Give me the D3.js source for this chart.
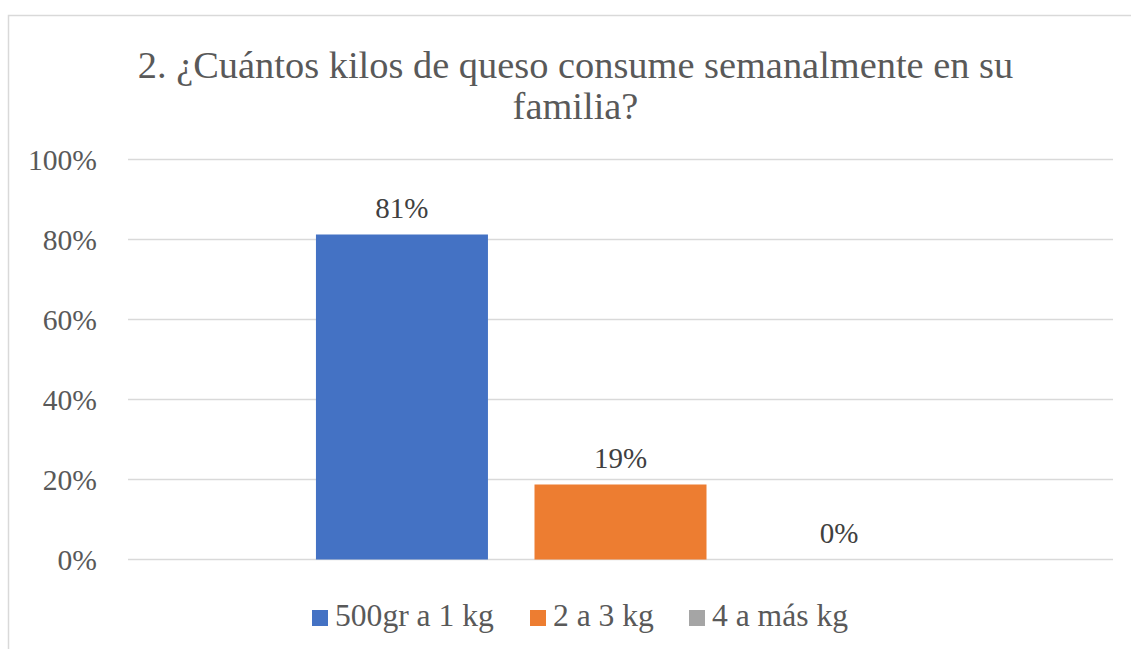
<!DOCTYPE html>
<html><head><meta charset="utf-8">
<script src="https://cdn.jsdelivr.net/npm/d3@7"></script>
<style>html,body{margin:0;padding:0;background:#fff;}svg{display:block;}</style>
</head><body>
<svg id="chart" width="1131" height="649"></svg>
<script>
const titleLines = ["2. ¿Cuántos kilos de queso consume semanalmente en su", "familia?"];
const series = ["500gr a 1 kg", "2 a 3 kg", "4 a más kg"];
const values = [0.8125, 0.1875, 0];
const labels = ["81%", "19%", "0%"];
const colors = ["#4472C4", "#ED7D31", "#A5A5A5"];
const yTicks = [0, 0.2, 0.4, 0.6, 0.8, 1.0];

const svg = d3.select("#chart");
const font = "Liberation Serif, Tinos, Times New Roman, Times, DejaVu Serif, serif";
const textColor = "#595959";

svg.append("rect").attr("x", 8.5).attr("y", 15.5).attr("width", 1140).attr("height", 650)
  .attr("fill", "#fff").attr("stroke", "#D9D9D9").attr("stroke-width", 1.5);

const plotL = 128, plotR = 1113, plotT = 159.5, plotB = 559.5;
const y = d3.scaleLinear().domain([0, 1]).range([plotB, plotT]);
const x = d3.scaleBand().domain(series).range([plotL, plotR]).paddingInner(0.213).paddingOuter(0.86);

svg.append("g").selectAll("line").data(yTicks).join("line")
  .attr("x1", plotL).attr("x2", plotR).attr("y1", d => y(d)).attr("y2", d => y(d))
  .attr("stroke", "#D9D9D9").attr("stroke-width", 1.5);

const yAxis = d3.axisLeft(y).tickValues(yTicks).tickFormat(d3.format(".0%")).tickSize(0).tickPadding(0);
const ga = svg.append("g").attr("transform", `translate(97,0)`).call(yAxis);
ga.select(".domain").remove();
ga.attr("font-family", null);
ga.selectAll("text").style("font-family", font).style("font-size", "29.6px").attr("fill", textColor)
  .attr("dy", "0.34em");

svg.append("g").selectAll("rect").data(series).join("rect")
  .attr("x", d => x(d)).attr("width", x.bandwidth())
  .attr("y", (d, i) => y(values[i])).attr("height", (d, i) => y(0) - y(values[i]))
  .attr("fill", (d, i) => colors[i]);

svg.append("g").selectAll("text").data(series).join("text")
  .attr("x", d => x(d) + x.bandwidth() / 2).attr("y", (d, i) => y(values[i]) - 17)
  .attr("text-anchor", "middle").style("font-family", font).style("font-size", "29px")
  .attr("fill", "#404040").text((d, i) => labels[i]);

svg.append("g").selectAll("text").data(titleLines).join("text")
  .attr("x", 575.5).attr("y", (d, i) => 78 + i * 41)
  .attr("text-anchor", "middle").style("font-family", font).style("font-size", "38.4px")
  .attr("fill", textColor).text(d => d);

const legendX = [312, 530, 689];
const lg = svg.append("g").selectAll("g").data(series).join("g")
  .attr("transform", (d, i) => `translate(${legendX[i]},0)`);
lg.append("rect").attr("x", 0).attr("y", 610).attr("width", 16).attr("height", 16)
  .attr("fill", (d, i) => colors[i]);
lg.append("text").attr("x", 23).attr("y", 626).style("font-family", font).style("font-size", "31.6px")
  .attr("fill", textColor).text(d => d);
</script>
</body></html>
